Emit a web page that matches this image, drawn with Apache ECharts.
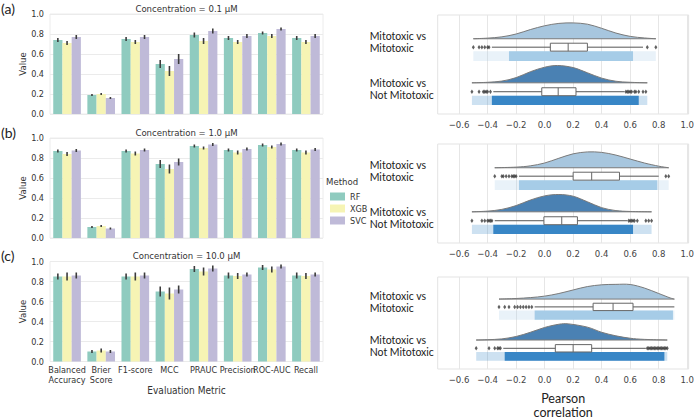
<!DOCTYPE html>
<html><head><meta charset="utf-8">
<script src="https://cdn.jsdelivr.net/npm/echarts@6/dist/echarts.min.js"></script>
<style>html,body{margin:0;padding:0;background:#fff}#c{width:697px;height:420px}</style>
</head><body><div id="c"></div>
<script>
// ---------- DATA ----------
const metrics = ['Balanced\nAccuracy','Brier\nScore','F1-score','MCC','PRAUC','Precision','ROC-AUC','Recall'];
const methods = ['RF','XGB','SVC'];
const concTitles = ['Concentration = 0.1 µM','Concentration = 1.0 µM','Concentration = 10.0 µM'];
const panelTags = ['(a)','(b)','(c)'];
const rowLabels = ['Mitotoxic vs\nMitotoxic','Mitotoxic vs\nNot Mitotoxic'];
const corrTicks = [-0.6,-0.4,-0.2,0,0.2,0.4,0.6,0.8,1.0];

// bar values (0.1 µM)
const rf01  = [0.74,0.19,0.75,0.50,0.79,0.76,0.81,0.76];
const xgb01 = [0.71,0.20,0.72,0.43,0.73,0.72,0.78,0.72];
const svc01 = [0.77,0.16,0.77,0.55,0.83,0.78,0.85,0.78];
const rf01Err  = [0.02,0.01,0.02,0.04,0.025,0.02,0.015,0.02];
const xgb01Err = [0.02,0.01,0.02,0.05,0.03,0.02,0.02,0.02];
const svc01Err = [0.02,0.01,0.02,0.05,0.025,0.02,0.015,0.02];
// 1.0 µM
const rf1  = [0.87,0.11,0.87,0.74,0.92,0.88,0.93,0.88];
const xgb1 = [0.84,0.12,0.845,0.69,0.90,0.855,0.91,0.855];
const svc1 = [0.875,0.095,0.88,0.76,0.935,0.89,0.94,0.885];
const rf1Err  = [0.015,0.01,0.015,0.04,0.015,0.015,0.015,0.015];
const xgb1Err = [0.02,0.01,0.02,0.045,0.015,0.02,0.015,0.02];
const svc1Err = [0.015,0.01,0.015,0.035,0.015,0.015,0.015,0.015];
// 10.0 µM
const rf10  = [0.85,0.10,0.85,0.70,0.925,0.86,0.94,0.86];
const xgb10 = [0.85,0.11,0.85,0.68,0.90,0.855,0.92,0.855];
const svc10 = [0.86,0.10,0.86,0.72,0.93,0.87,0.95,0.87];
const rf10Err  = [0.03,0.015,0.03,0.05,0.03,0.03,0.025,0.03];
const xgb10Err = [0.04,0.02,0.04,0.06,0.04,0.03,0.03,0.03];
const svc10Err = [0.03,0.015,0.03,0.04,0.03,0.02,0.02,0.02];

// raincloud: density [x, relative density]
const densMM01 = [[-0.5,0],[-0.4,0.04],[-0.3,0.12],[-0.2,0.3],[-0.1,0.58],[0,0.82],[0.1,0.97],[0.2,1.0],[0.3,0.92],[0.4,0.66],[0.5,0.36],[0.6,0.15],[0.7,0.05],[0.78,0]];
const densMN01 = [[-0.51,0],[-0.4,0.03],[-0.3,0.1],[-0.2,0.3],[-0.1,0.64],[0,0.9],[0.09,1.0],[0.2,0.88],[0.3,0.58],[0.4,0.27],[0.5,0.09],[0.6,0.03],[0.72,0]];
const densMM1  = [[-0.35,0],[-0.2,0.04],[-0.1,0.12],[0,0.3],[0.1,0.6],[0.2,0.88],[0.3,1.0],[0.4,0.97],[0.5,0.8],[0.6,0.55],[0.7,0.3],[0.8,0.1],[0.87,0]];
const densMN1  = [[-0.51,0],[-0.4,0.04],[-0.3,0.14],[-0.2,0.36],[-0.1,0.68],[0,0.92],[0.1,1.0],[0.2,0.9],[0.3,0.58],[0.4,0.24],[0.5,0.07],[0.6,0.02],[0.75,0]];
const densMM10 = [[-0.32,0],[-0.2,0.04],[-0.1,0.1],[0,0.2],[0.1,0.38],[0.2,0.62],[0.3,0.85],[0.4,0.97],[0.5,1.0],[0.6,0.99],[0.7,0.75],[0.8,0.38],[0.88,0.08],[0.91,0]];
const densMN10 = [[-0.48,0],[-0.4,0.02],[-0.3,0.07],[-0.2,0.22],[-0.1,0.48],[0,0.78],[0.1,0.98],[0.17,1.0],[0.3,0.8],[0.4,0.48],[0.5,0.26],[0.6,0.11],[0.7,0.04],[0.86,0]];
// box [whiskerLow, Q1, median, Q3, whiskerHigh]
const boxMM01 = [-0.37,0.04,0.165,0.30,0.69];
const boxMN01 = [-0.36,-0.02,0.095,0.22,0.56];
const boxMM1  = [-0.18,0.20,0.33,0.525,0.80];
const boxMN1  = [-0.35,-0.005,0.12,0.23,0.58];
const boxMM10 = [-0.07,0.34,0.48,0.62,0.91];
const boxMN10 = [-0.29,0.075,0.20,0.33,0.71];
// outliers
const fliersMM01 = [-0.50,-0.46,-0.44,-0.42,-0.40,-0.39,0.72,0.78];
const fliersMN01 = [-0.51,-0.46,-0.43,-0.42,-0.41,-0.40,-0.38,0.57,0.58,0.59,0.60,0.61,0.63,0.64,0.66,0.69,0.71];
const fliersMM1  = [-0.35,-0.30,-0.29,-0.27,-0.25,-0.23,-0.22,-0.21,-0.20,0.85,0.87];
const fliersMN1  = [-0.51,-0.44,-0.42,-0.40,-0.39,-0.38,-0.37,0.59,0.60,0.61,0.62,0.63,0.65,0.71,0.73,0.75];
const fliersMM10 = [-0.32,-0.28,-0.25,-0.21,-0.19,-0.17,-0.15,-0.13,-0.11,-0.09];
const fliersMN10 = [-0.48,-0.39,-0.35,-0.33,-0.32,-0.31,0.72,0.73,0.74,0.75,0.76,0.77,0.78,0.79,0.80,0.81,0.82,0.83,0.84,0.85,0.86];
// strip extent [sparseMin, denseMin, denseMax, sparseMax]
const stripMM01 = [-0.50,-0.25,0.62,0.78];
const stripMN01 = [-0.51,-0.37,0.66,0.72];
const stripMM1  = [-0.35,-0.18,0.79,0.87];
const stripMN1  = [-0.51,-0.36,0.62,0.75];
const stripMM10 = [-0.32,-0.07,0.90,0.91];
const stripMN10 = [-0.48,-0.28,0.84,0.86];

// ---------- assembly ----------
const barVals = [[rf01,xgb01,svc01],[rf1,xgb1,svc1],[rf10,xgb10,svc10]];
const barErrs = [[rf01Err,xgb01Err,svc01Err],[rf1Err,xgb1Err,svc1Err],[rf10Err,xgb10Err,svc10Err]];
const dens = [[densMM01,densMN01],[densMM1,densMN1],[densMM10,densMN10]];
const boxes = [[boxMM01,boxMN01],[boxMM1,boxMN1],[boxMM10,boxMN10]];
const fliers = [[fliersMM01,fliersMN01],[fliersMM1,fliersMN1],[fliersMM10,fliersMN10]];
const strips = [[stripMM01,stripMN01],[stripMM1,stripMN1],[stripMM10,stripMN10]];

const barColors = ['#8fcbbf','#f6f4b4','#bfbad8'];
const densFill = ['#a7c6de','#4a81b3'];
const stripFill = ['#a6cce7','#3886c6'];
const F_COND = "'DejaVu Sans Condensed','Liberation Sans Narrow','DejaVu Sans',sans-serif";
const F_UI = "Lato,'Open Sans',sans-serif";
const CAT_GAP = 0.19;

const leftTops = [14, 138, 261.5];
const rightTops = [15, 144, 277];
const L = {base:[24,68.5], amp:[16,17.5], box:[32.5,77.5], boxHalf:4, strip:[[36.5,46.5],[81.5,91]]};

const grids=[], xAxes=[], yAxes=[], series=[], graphics=[];

function fmtCorr(v){ const s = Math.abs(v).toFixed(1); return v < -1e-9 ? '\u2212'+s : s; }

function smoothPath(P, baseY){
  let d = 'M'+P[0][0]+','+P[0][1];
  for (let i=0;i<P.length-1;i++){
    const p0=P[i-1]||P[i], p1=P[i], p2=P[i+1], p3=P[i+2]||P[i+1];
    const c1x=p1[0]+(p2[0]-p0[0])/6, c1y=Math.min(baseY,p1[1]+(p2[1]-p0[1])/6);
    const c2x=p2[0]-(p3[0]-p1[0])/6, c2y=Math.min(baseY,p2[1]-(p3[1]-p1[1])/6);
    d += ' C'+c1x+','+c1y+' '+c2x+','+c2y+' '+p2[0]+','+p2[1];
  }
  return d+' Z';
}

for (let p=0;p<3;p++){
  grids.push({left:50, top:leftTops[p], width:273, height:100, show:true, borderColor:'#ececec', borderWidth:1});
  xAxes.push({type:'category', gridIndex:p, data:metrics, axisTick:{show:false}, axisLine:{show:false},
    axisLabel:{show:p===2, interval:0, fontSize:9, color:'#333', lineHeight:10, margin:3, fontFamily:F_COND},
    name:p===2?'Evaluation Metric':'', nameLocation:'middle', nameGap:19,
    nameTextStyle:{fontSize:10, color:'#333', fontFamily:F_COND}});
  yAxes.push({type:'value', gridIndex:p, min:0, max:1, interval:0.2, axisLine:{show:false}, axisTick:{show:false},
    splitLine:{lineStyle:{color:'#ebebeb'}},
    axisLabel:{formatter:v=>v.toFixed(1), fontSize:9, color:'#333', margin:6, fontFamily:F_COND},
    name:'Value', nameLocation:'middle', nameGap:19, nameTextStyle:{fontSize:9.5, color:'#333', fontFamily:F_COND}});
  for (let m=0;m<3;m++){
    series.push({type:'bar', name:methods[m], xAxisIndex:p, yAxisIndex:p, data:barVals[p][m],
      barGap:'0%', barCategoryGap:(CAT_GAP*100)+'%', itemStyle:{color:barColors[m]}, emphasis:{disabled:true}});
  }
  const errData=[];
  for (let m=0;m<3;m++) for (let c=0;c<metrics.length;c++) errData.push([c, barVals[p][m][c], barErrs[p][m][c], m]);
  series.push({type:'custom', name:'err'+p, xAxisIndex:p, yAxisIndex:p, z:5, data:errData, encode:{x:0,y:1},
    renderItem:function(params, api){
      const c=api.value(0), v=api.value(1), e=api.value(2), m=api.value(3);
      const band=api.size([1,0])[0]; const bw=band*(1-CAT_GAP)/3;
      const cx=api.coord([c,0])[0]+(m-1)*bw;
      const y1=api.coord([c,v-e])[1], y2=api.coord([c,v+e])[1];
      return {type:'line', shape:{x1:cx,y1:y1,x2:cx,y2:y2}, style:{stroke:'#3c3c3c', lineWidth:1.6}};
    }});
  graphics.push({type:'text', x:186.5, y:leftTops[p]-6, style:{text:concTitles[p], align:'center', verticalAlign:'middle', fontSize:9.5, fill:'#333', fontFamily:F_COND}});
  graphics.push({type:'text', x:1, y:leftTops[p]-6, style:{text:panelTags[p], align:'left', verticalAlign:'middle', fontSize:14, fill:'#222', fontFamily:F_UI}});
}

for (let i=0;i<3;i++){
  const gi=3+i;
  grids.push({left:437.7, top:rightTops[i], width:254, height:i===2?100:99, show:true, borderColor:'#e3e3e3', borderWidth:1});
  xAxes.push({type:'value', gridIndex:gi, min:-0.75, max:1.01, axisLine:{show:false},
    axisTick:{show:false, customValues:corrTicks},
    axisLabel:{customValues:corrTicks, formatter:fmtCorr, fontSize:9.5, color:'#444', margin:5, fontFamily:F_COND},
    splitLine:{show:true, lineStyle:{color:'#e6e6e6'}},
    name:i===2?'Pearson\ncorrelation':'', nameLocation:'middle', nameGap:22,
    nameTextStyle:{fontSize:12.5, lineHeight:14, color:'#222', fontFamily:F_UI}});
  yAxes.push({type:'value', gridIndex:gi, inverse:true, min:0, max:100, axisLine:{show:false}, axisTick:{show:false}, splitLine:{show:false},
    axisLabel:{customValues:[27,74.5], formatter:v=>v<50?rowLabels[0]:rowLabels[1], align:'left', margin:68, fontSize:10.5, lineHeight:12, color:'#222', fontFamily:F_UI}});
  series.push({type:'custom', name:'rain'+i, xAxisIndex:gi, yAxisIndex:gi, data:[[0],[1]], encode:{x:0}, z:2,
    renderItem:function(params, api){
      const r=params.dataIndex;
      const D=dens[i][r], B=boxes[i][r], S=strips[i][r];
      const baseY=api.coord([0,L.base[r]])[1];
      const pts=D.map(d=>api.coord([d[0], L.base[r]-L.amp[r]*d[1]]));
      const yc=api.coord([0,L.box[r]])[1];
      const yb0=api.coord([0,L.box[r]-L.boxHalf])[1], yb1=api.coord([0,L.box[r]+L.boxHalf])[1];
      const ys0=api.coord([0,L.strip[r][0]])[1], ys1=api.coord([0,L.strip[r][1]])[1];
      const xs=v=>api.coord([v,0])[0];
      return {type:'group', children:[
        {type:'path', shape:{pathData:smoothPath(pts, baseY)}, style:{fill:densFill[r], stroke:'#7a7a7a', lineWidth:1}},
        {type:'rect', shape:{x:xs(S[0]), y:ys0, width:xs(S[3])-xs(S[0]), height:ys1-ys0}, style:{fill:stripFill[r], opacity:0.25}},
        {type:'rect', shape:{x:xs(S[1]), y:ys0, width:xs(S[2])-xs(S[1]), height:ys1-ys0}, style:{fill:stripFill[r]}},
        {type:'line', shape:{x1:xs(B[0]), y1:yc, x2:xs(B[4]), y2:yc}, style:{stroke:'#555', lineWidth:1}},
        {type:'rect', shape:{x:xs(B[1]), y:yb0, width:xs(B[3])-xs(B[1]), height:yb1-yb0}, style:{fill:'#fff', stroke:'#666', lineWidth:1}},
        {type:'line', shape:{x1:xs(B[2]), y1:yb0, x2:xs(B[2]), y2:yb1}, style:{stroke:'#666', lineWidth:1}}
      ]};
    }});
  for (let r=0;r<2;r++){
    series.push({type:'scatter', name:'fl'+i+r, xAxisIndex:gi, yAxisIndex:gi, z:4, symbol:'diamond', symbolSize:[3,4.5],
      itemStyle:{color:'#3a3a3a'}, data:fliers[i][r].map(x=>[x, L.box[r]]), silent:true});
  }
}

graphics.push({type:'text', x:326, y:181, style:{text:'Method', align:'left', verticalAlign:'middle', fontSize:9.5, fill:'#333', fontFamily:F_COND}});

const chart = echarts.init(document.getElementById('c'), null, {renderer:'svg'});
chart.setOption({
  animation:false,
  backgroundColor:'#fff',
  grid:grids, xAxis:xAxes, yAxis:yAxes, series:series,
  legend:{data:methods, left:325, top:187, orient:'vertical', icon:'rect', itemWidth:15, itemHeight:8, itemGap:3,
    textStyle:{fontSize:9, color:'#333', fontFamily:F_COND}, selectedMode:false},
  graphic:graphics
});
</script></body></html>
